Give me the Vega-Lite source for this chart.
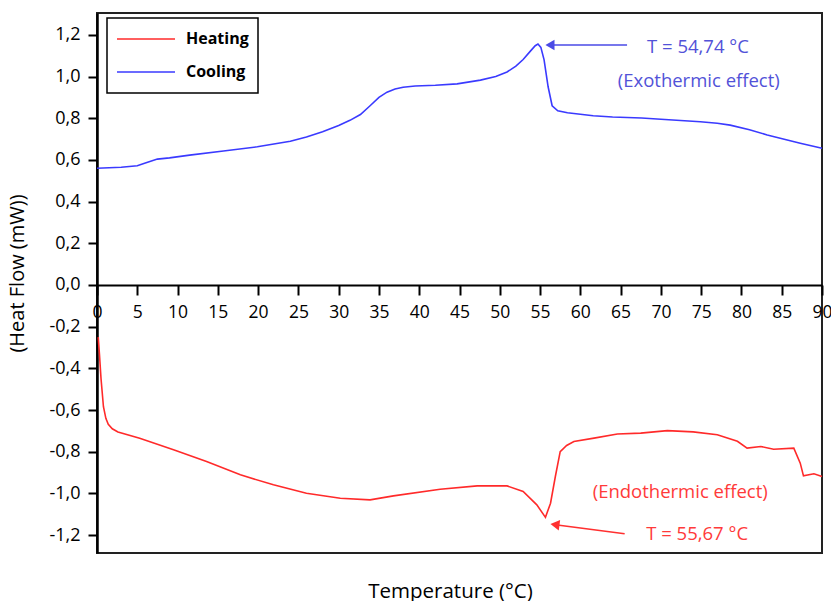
{
  "$schema": "https://vega.github.io/schema/vega-lite/v6.json",
  "width": 725,
  "height": 540,
  "autosize": "none",
  "padding": {"left": 97, "top": 13, "right": 9, "bottom": 48},
  "background": "white",
  "config": {
    "view": {"stroke": "#222222", "strokeWidth": 2},
    "font": "Open Sans",
    "legend": {"strokeWidth": 1.5}
  },
  "datasets": {
    "curves": [
      {"series": "Cooling", "T": 0, "HF": 0.56},
      {"series": "Cooling", "T": 3, "HF": 0.565},
      {"series": "Cooling", "T": 5, "HF": 0.572},
      {"series": "Cooling", "T": 6, "HF": 0.585},
      {"series": "Cooling", "T": 7.5, "HF": 0.604},
      {"series": "Cooling", "T": 9, "HF": 0.61},
      {"series": "Cooling", "T": 11.5, "HF": 0.623},
      {"series": "Cooling", "T": 15.7, "HF": 0.643},
      {"series": "Cooling", "T": 19.9, "HF": 0.663},
      {"series": "Cooling", "T": 24, "HF": 0.69},
      {"series": "Cooling", "T": 26, "HF": 0.71},
      {"series": "Cooling", "T": 28, "HF": 0.735},
      {"series": "Cooling", "T": 30, "HF": 0.765},
      {"series": "Cooling", "T": 31.4, "HF": 0.79},
      {"series": "Cooling", "T": 32.7, "HF": 0.818},
      {"series": "Cooling", "T": 33.9, "HF": 0.86},
      {"series": "Cooling", "T": 35, "HF": 0.9},
      {"series": "Cooling", "T": 36, "HF": 0.925},
      {"series": "Cooling", "T": 37, "HF": 0.94},
      {"series": "Cooling", "T": 38, "HF": 0.949},
      {"series": "Cooling", "T": 39.5, "HF": 0.955},
      {"series": "Cooling", "T": 42, "HF": 0.958},
      {"series": "Cooling", "T": 44.7, "HF": 0.965},
      {"series": "Cooling", "T": 47.6, "HF": 0.983},
      {"series": "Cooling", "T": 49.5, "HF": 1.0},
      {"series": "Cooling", "T": 50.9, "HF": 1.022},
      {"series": "Cooling", "T": 52, "HF": 1.05},
      {"series": "Cooling", "T": 52.9, "HF": 1.082},
      {"series": "Cooling", "T": 53.8, "HF": 1.122},
      {"series": "Cooling", "T": 54.4, "HF": 1.148},
      {"series": "Cooling", "T": 54.74, "HF": 1.156},
      {"series": "Cooling", "T": 55.1, "HF": 1.14},
      {"series": "Cooling", "T": 55.5, "HF": 1.08},
      {"series": "Cooling", "T": 56, "HF": 0.951},
      {"series": "Cooling", "T": 56.5, "HF": 0.86},
      {"series": "Cooling", "T": 57.2, "HF": 0.836},
      {"series": "Cooling", "T": 58.4, "HF": 0.826},
      {"series": "Cooling", "T": 61.6, "HF": 0.812},
      {"series": "Cooling", "T": 64, "HF": 0.806},
      {"series": "Cooling", "T": 67.6, "HF": 0.801},
      {"series": "Cooling", "T": 70, "HF": 0.795},
      {"series": "Cooling", "T": 74.9, "HF": 0.783},
      {"series": "Cooling", "T": 77, "HF": 0.776},
      {"series": "Cooling", "T": 78.6, "HF": 0.767},
      {"series": "Cooling", "T": 81, "HF": 0.745},
      {"series": "Cooling", "T": 83.2, "HF": 0.72},
      {"series": "Cooling", "T": 87.3, "HF": 0.68},
      {"series": "Cooling", "T": 90, "HF": 0.656},
      {"series": "Heating", "T": 0.15, "HF": -0.25},
      {"series": "Heating", "T": 0.3, "HF": -0.33},
      {"series": "Heating", "T": 0.5, "HF": -0.45},
      {"series": "Heating", "T": 0.8, "HF": -0.584},
      {"series": "Heating", "T": 1.1, "HF": -0.64},
      {"series": "Heating", "T": 1.4, "HF": -0.668},
      {"series": "Heating", "T": 1.9, "HF": -0.69},
      {"series": "Heating", "T": 2.6, "HF": -0.705},
      {"series": "Heating", "T": 5.3, "HF": -0.735},
      {"series": "Heating", "T": 9.5, "HF": -0.791},
      {"series": "Heating", "T": 13.6, "HF": -0.847},
      {"series": "Heating", "T": 17.8, "HF": -0.911},
      {"series": "Heating", "T": 21.9, "HF": -0.959},
      {"series": "Heating", "T": 26, "HF": -0.999},
      {"series": "Heating", "T": 30.2, "HF": -1.023},
      {"series": "Heating", "T": 33.9, "HF": -1.031},
      {"series": "Heating", "T": 36.8, "HF": -1.012},
      {"series": "Heating", "T": 42.6, "HF": -0.98},
      {"series": "Heating", "T": 47.2, "HF": -0.964},
      {"series": "Heating", "T": 50.9, "HF": -0.964},
      {"series": "Heating", "T": 52.9, "HF": -0.991},
      {"series": "Heating", "T": 54.6, "HF": -1.055},
      {"series": "Heating", "T": 55.67, "HF": -1.115},
      {"series": "Heating", "T": 56.3, "HF": -1.047},
      {"series": "Heating", "T": 56.9, "HF": -0.919},
      {"series": "Heating", "T": 57.5, "HF": -0.8},
      {"series": "Heating", "T": 58.3, "HF": -0.77},
      {"series": "Heating", "T": 59.2, "HF": -0.751},
      {"series": "Heating", "T": 61.7, "HF": -0.735},
      {"series": "Heating", "T": 64.6, "HF": -0.715},
      {"series": "Heating", "T": 67.5, "HF": -0.711},
      {"series": "Heating", "T": 70.8, "HF": -0.699},
      {"series": "Heating", "T": 74, "HF": -0.705},
      {"series": "Heating", "T": 77, "HF": -0.719},
      {"series": "Heating", "T": 79.5, "HF": -0.75},
      {"series": "Heating", "T": 80.7, "HF": -0.783},
      {"series": "Heating", "T": 82.4, "HF": -0.775},
      {"series": "Heating", "T": 84, "HF": -0.788},
      {"series": "Heating", "T": 86.5, "HF": -0.783},
      {"series": "Heating", "T": 87.3, "HF": -0.855},
      {"series": "Heating", "T": 87.7, "HF": -0.916},
      {"series": "Heating", "T": 89, "HF": -0.906},
      {"series": "Heating", "T": 90, "HF": -0.919}
    ],
    "arrows": [
      {"series": "Cooling", "T": 65.8, "HF": 1.151, "T2": 56.3, "HF2": 1.151},
      {"series": "Heating", "T": 65.5, "HF": -1.194, "T2": 56.9, "HF2": -1.15}
    ],
    "heads": [
      {"series": "Cooling", "T": 56.23, "HF": 1.151},
      {"series": "Heating", "T": 56.85, "HF": -1.15}
    ],
    "notes": [
      {"series": "Cooling", "T": 74.6, "HF": 1.141, "label": "T = 54,74 °C"},
      {"series": "Cooling", "T": 74.7, "HF": 0.978, "label": "(Exothermic effect)"},
      {"series": "Heating", "T": 72.4, "HF": -0.993, "label": "(Endothermic effect)"},
      {"series": "Heating", "T": 74.5, "HF": -1.194, "label": "T = 55,67 °C"}
    ]
  },
  "encoding": {
    "x": {"field": "T", "type": "quantitative", "scale": {"domain": [0, 90], "nice": false, "zero": false}},
    "y": {"field": "HF", "type": "quantitative", "scale": {"domain": [-1.286, 1.305], "nice": false, "zero": false}}
  },
  "layer": [
    {
      "data": {"name": "curves"},
      "mark": {"type": "line", "strokeWidth": 1.6},
      "encoding": {
        "x": {
          "field": "T", "type": "quantitative",
          "axis": {
            "title": "Temperature (°C)",
            "offset": -268,
            "values": [0, 2.5, 5, 7.5, 10, 12.5, 15, 17.5, 20, 22.5, 25, 27.5, 30, 32.5, 35, 37.5, 40, 42.5, 45, 47.5, 50, 52.5, 55, 57.5, 60, 62.5, 65, 67.5, 70, 72.5, 75, 77.5, 80, 82.5, 85, 87.5, 90],
            "labelExpr": "datum.value % 5 === 0 ? format(datum.value, 'd') : ''",
            "labelOverlap": false,
            "labelFlush": false,
            "tickSize": {"condition": {"test": "datum.value % 5 === 0", "value": 10}, "value": 5},
            "tickColor": "black",
            "tickWidth": 2,
            "domainColor": "black",
            "domainWidth": 2,
            "grid": false,
            "labelFont": "Open Sans",
            "labelFontSize": 17.5,
            "labelColor": "black",
            "labelPadding": 8,
            "titleFont": "Open Sans",
            "titleFontSize": 20.5,
            "titleFontWeight": "normal",
            "titleColor": "black",
            "titleBaseline": "alphabetic",
            "titleX": 353,
            "titleY": 312
          }
        },
        "y": {
          "field": "HF", "type": "quantitative",
          "axis": {
            "title": "(Heat Flow (mW))",
            "values": [-1.2, -1.1, -1.0, -0.9, -0.8, -0.7, -0.6, -0.5, -0.4, -0.3, -0.2, -0.1, 0, 0.1, 0.2, 0.3, 0.4, 0.5, 0.6, 0.7, 0.8, 0.9, 1.0, 1.1, 1.2],
            "labelExpr": "abs(round(datum.value * 10)) % 2 === 0 ? replace(replace(format(datum.value, '.1f'), '.', ','), '−', '-') : ''",
            "labelOverlap": false,
            "labelFlush": false,
            "tickSize": {"condition": {"test": "abs(round(datum.value * 10)) % 2 === 0", "value": 9}, "value": 4},
            "tickColor": "black",
            "tickWidth": 2,
            "domainColor": "black",
            "domainWidth": 2.5,
            "grid": false,
            "labelFont": "Open Sans",
            "labelFontSize": 18,
            "labelColor": "black",
            "labelPadding": 8,
            "titleFont": "Open Sans",
            "titleFontSize": 20,
            "titleFontWeight": "normal",
            "titleColor": "black",
            "titleX": -70,
            "titleY": 260
          }
        },
        "color": {
          "field": "series", "type": "nominal",
          "scale": {"domain": ["Heating", "Cooling"], "range": ["#ff2a2a", "#3a3aff"]},
          "legend": {
            "title": null,
            "orient": "none",
            "legendX": 10,
            "legendY": 5,
            "strokeColor": "black",
            "padding": 9,
            "symbolType": "stroke",
            "symbolSize": 3364,
            "symbolStrokeWidth": 1.5,
            "clipHeight": 24,
            "labelFont": "Open Sans",
            "labelFontSize": 16,
            "labelFontWeight": "bold",
            "labelColor": "black",
            "labelOffset": 10,
            "rowPadding": 9
          }
        }
      }
    },
    {
      "data": {"name": "arrows"},
      "transform": [{"filter": "datum.series === 'Cooling'"}],
      "mark": {"type": "rule", "color": "#4a4ae6", "strokeWidth": 1.5},
      "encoding": {"x2": {"field": "T2"}, "y2": {"field": "HF2"}}
    },
    {
      "data": {"name": "arrows"},
      "transform": [{"filter": "datum.series === 'Heating'"}],
      "mark": {"type": "rule", "color": "#ff3030", "strokeWidth": 1.5},
      "encoding": {"x2": {"field": "T2"}, "y2": {"field": "HF2"}}
    },
    {
      "data": {"name": "heads"},
      "transform": [{"filter": "datum.series === 'Cooling'"}],
      "mark": {"type": "point", "shape": "triangle-left", "filled": true, "size": 110, "color": "#4a4ae6", "opacity": 1},
      "encoding": {}
    },
    {
      "data": {"name": "heads"},
      "transform": [{"filter": "datum.series === 'Heating'"}],
      "mark": {"type": "point", "shape": "triangle-left", "filled": true, "size": 110, "angle": 7.6, "color": "#ff3030", "opacity": 1},
      "encoding": {}
    },
    {
      "data": {"name": "notes"},
      "transform": [{"filter": "datum.series === 'Cooling'"}],
      "mark": {"type": "text", "font": "Open Sans", "fontSize": 18.5, "color": "#5252d8", "align": "center", "baseline": "middle"},
      "encoding": {"text": {"field": "label"}}
    },
    {
      "data": {"name": "notes"},
      "transform": [{"filter": "datum.series === 'Heating'"}],
      "mark": {"type": "text", "font": "Open Sans", "fontSize": 18.5, "color": "#ff3a3a", "align": "center", "baseline": "middle"},
      "encoding": {"text": {"field": "label"}}
    }
  ]
}
